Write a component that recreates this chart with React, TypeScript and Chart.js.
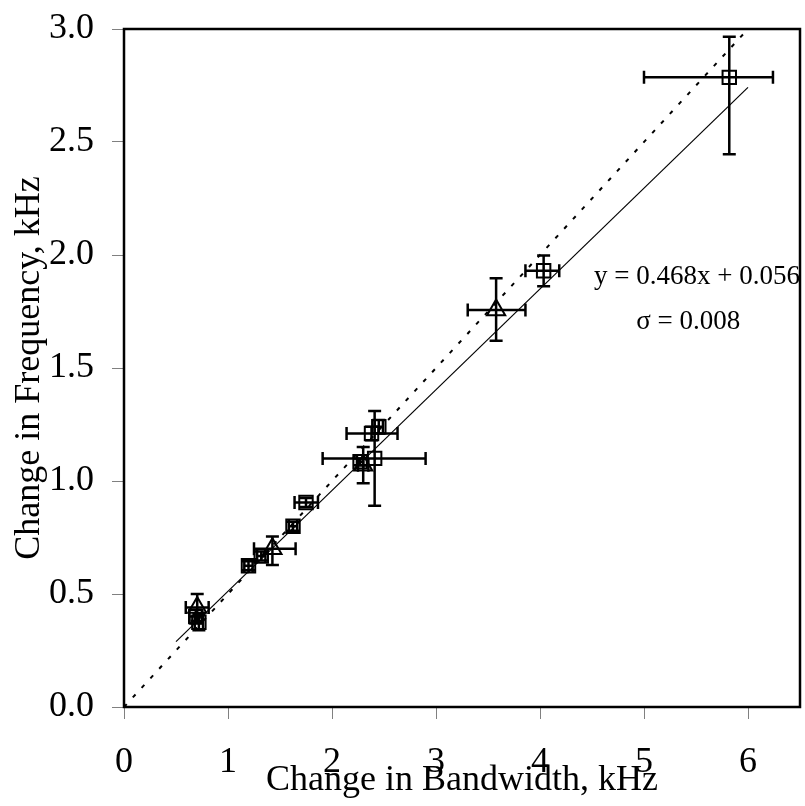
import React, { useEffect, useRef } from "react";
import { Chart, registerables } from "chart.js";

Chart.register(...registerables);

const FONT = '"Liberation Serif", "Times New Roman", Times, serif';

// Square markers (value, and asymmetric error extents)
const squareX = [0.69, 0.72, 1.197, 1.32, 1.625, 1.75, 2.27, 2.41, 2.38, 2.45, 4.035, 5.82];
const squareY = [0.40, 0.375, 0.625, 0.668, 0.80, 0.905, 1.085, 1.10, 1.21, 1.24, 1.93, 2.786];
const squareXErrMinus = [0.06, 0.04, 0.04, 0.04, 0.04, 0.11, 0.03, 0.50, 0.24, 0.04, 0.175, 0.82];
const squareXErrPlus = [0.06, 0.04, 0.04, 0.04, 0.04, 0.115, 0.03, 0.49, 0.25, 0.04, 0.15, 0.42];
const squareYErrMinus = [0.03, 0.035, 0.02, 0.02, 0.02, 0.02, 0.015, 0.21, 0.03, 0.03, 0.068, 0.34];
const squareYErrPlus = [0.03, 0.035, 0.02, 0.02, 0.02, 0.02, 0.015, 0.21, 0.03, 0.03, 0.068, 0.18];

// Triangle markers
const triangleX = [0.704, 1.427, 2.30, 3.578];
const triangleY = [0.44, 0.70, 1.07, 1.757];
const triangleXErrMinus = [0.11, 0.177, 0.05, 0.273];
const triangleXErrPlus = [0.11, 0.223, 0.05, 0.282];
const triangleYErrMinus = [0.06, 0.072, 0.08, 0.136];
const triangleYErrPlus = [0.06, 0.054, 0.08, 0.14];

// Lines
const fitLineX = [0.5, 6.0];
const fitLineY = [0.289, 2.742];
const refLineX = [0, 6];
const refLineY = [0, 3];

// Ticks
const xTickValues = [0, 1, 2, 3, 4, 5, 6];
const yTickValues = [0, 0.5, 1.0, 1.5, 2.0, 2.5, 3.0];

const xTitle = "Change in Bandwidth, kHz";
const yTitle = "Change in Frequency, kHz";
const fitLabel = "y = 0.468x + 0.056";
const sigmaLabel = "σ = 0.008";

const overlayPlugin = {
  id: "overlay",
  afterDatasetsDraw(chart: any) {
    const { ctx, chartArea, scales } = chart;
    const xs = scales.x;
    const ys = scales.y;
    const cap = 6.5;
    ctx.save();
    ctx.strokeStyle = "#000";
    ctx.lineWidth = 2.5;
    ctx.lineCap = "butt";
    const drawErr = (
      X: number[], Y: number[], xm: number[], xp: number[], ym: number[], yp: number[]
    ) => {
      for (let i = 0; i < X.length; i++) {
        const px = xs.getPixelForValue(X[i]);
        const py = ys.getPixelForValue(Y[i]);
        const x0 = xs.getPixelForValue(X[i] - xm[i]);
        const x1 = xs.getPixelForValue(X[i] + xp[i]);
        const y0 = ys.getPixelForValue(Y[i] - ym[i]);
        const y1 = ys.getPixelForValue(Y[i] + yp[i]);
        ctx.beginPath();
        ctx.moveTo(x0, py); ctx.lineTo(x1, py);
        ctx.moveTo(px, y0); ctx.lineTo(px, y1);
        ctx.moveTo(x0, py - cap); ctx.lineTo(x0, py + cap);
        ctx.moveTo(x1, py - cap); ctx.lineTo(x1, py + cap);
        ctx.moveTo(px - cap, y0); ctx.lineTo(px + cap, y0);
        ctx.moveTo(px - cap, y1); ctx.lineTo(px + cap, y1);
        ctx.stroke();
      }
    };
    drawErr(squareX, squareY, squareXErrMinus, squareXErrPlus, squareYErrMinus, squareYErrPlus);
    drawErr(triangleX, triangleY, triangleXErrMinus, triangleXErrPlus, triangleYErrMinus, triangleYErrPlus);

    // plot frame
    ctx.lineWidth = 2.5;
    ctx.strokeRect(chartArea.left, chartArea.top, chartArea.right - chartArea.left, chartArea.bottom - chartArea.top);

    // annotation
    ctx.fillStyle = "#000";
    ctx.font = `27px ${FONT}`;
    ctx.textBaseline = "middle";
    ctx.textAlign = "left";
    ctx.fillText(fitLabel, xs.getPixelForValue(4.52), ys.getPixelForValue(1.903));
    ctx.fillText(sigmaLabel, xs.getPixelForValue(4.925), ys.getPixelForValue(1.705));
    ctx.restore();
  },
};

export default function App() {
  const canvasRef = useRef<HTMLCanvasElement | null>(null);

  useEffect(() => {
    const canvas = canvasRef.current;
    if (!canvas) return;
    const chart = new Chart(canvas, {
      type: "scatter",
      data: {
        datasets: [
          {
            label: "fit",
            data: fitLineX.map((v, i) => ({ x: v, y: fitLineY[i] })),
            showLine: true,
            borderColor: "#000",
            borderWidth: 1.2,
            pointRadius: 0,
            fill: false,
          },
          {
            label: "reference",
            data: refLineX.map((v, i) => ({ x: v, y: refLineY[i] })),
            showLine: true,
            borderColor: "#000",
            borderWidth: 2,
            borderDash: [4, 9],
            pointRadius: 0,
            fill: false,
          },
          {
            label: "squares",
            data: squareX.map((v, i) => ({ x: v, y: squareY[i] })),
            pointStyle: "rect",
            pointRadius: 9.5,
            pointBorderWidth: 2,
            borderColor: "#000",
            backgroundColor: "rgba(0,0,0,0)",
            showLine: false,
          },
          {
            label: "triangles",
            data: triangleX.map((v, i) => ({ x: v, y: triangleY[i] })),
            pointStyle: "triangle",
            pointRadius: 10.5,
            pointBorderWidth: 2,
            borderColor: "#000",
            backgroundColor: "rgba(0,0,0,0)",
            showLine: false,
          },
        ],
      },
      options: {
        responsive: false,
        animation: false,
        devicePixelRatio: 1,
        layout: { autoPadding: false, padding: { left: 0, top: 29, right: 5, bottom: 0 } },
        plugins: { legend: { display: false }, tooltip: { enabled: false } },
        scales: {
          x: {
            type: "linear",
            min: 0,
            max: 6.5,
            afterBuildTicks: (scale: any) => {
              scale.ticks = xTickValues.map((v) => ({ value: v }));
            },
            afterFit: (scale: any) => {
              scale.height = 99;
              scale.paddingLeft = 0;
              scale.paddingRight = 0;
              scale.paddingTop = 0;
              scale.paddingBottom = 0;
            },
            grid: {
              display: true,
              drawOnChartArea: false,
              drawTicks: true,
              tickLength: 12,
              color: "#808080",
              lineWidth: 1,
            },
            border: { display: false },
            ticks: {
              color: "#000",
              padding: 22,
              font: { family: FONT, size: 36 },
              maxRotation: 0,
              autoSkip: false,
              callback: (v: any) => String(v),
            },
            title: {
              display: true,
              text: xTitle,
              color: "#000",
              font: { family: FONT, size: 36, lineHeight: 1.44 },
              padding: 0,
            },
          },
          y: {
            type: "linear",
            min: 0,
            max: 3,
            afterBuildTicks: (scale: any) => {
              scale.ticks = yTickValues.map((v) => ({ value: v }));
            },
            afterFit: (scale: any) => {
              scale.width = 124;
              scale.paddingLeft = 0;
              scale.paddingRight = 0;
              scale.paddingTop = 0;
              scale.paddingBottom = 0;
            },
            grid: {
              display: true,
              drawOnChartArea: false,
              drawTicks: true,
              tickLength: 12,
              color: "#808080",
              lineWidth: 1,
            },
            border: { display: false },
            ticks: {
              color: "#000",
              padding: 18,
              font: { family: FONT, size: 36 },
              autoSkip: false,
              callback: (v: any) => Number(v).toFixed(1),
            },
            title: {
              display: true,
              text: yTitle,
              color: "#000",
              font: { family: FONT, size: 36, lineHeight: 1.65 },
              padding: 0,
            },
          },
        },
      },
      plugins: [overlayPlugin],
    });
    return () => chart.destroy();
  }, []);

  return (
    <div style={{ position: "absolute", left: 0, top: 0, width: 805, height: 806, background: "#fff" }}>
      <canvas ref={canvasRef} width={805} height={806} />
    </div>
  );
}
